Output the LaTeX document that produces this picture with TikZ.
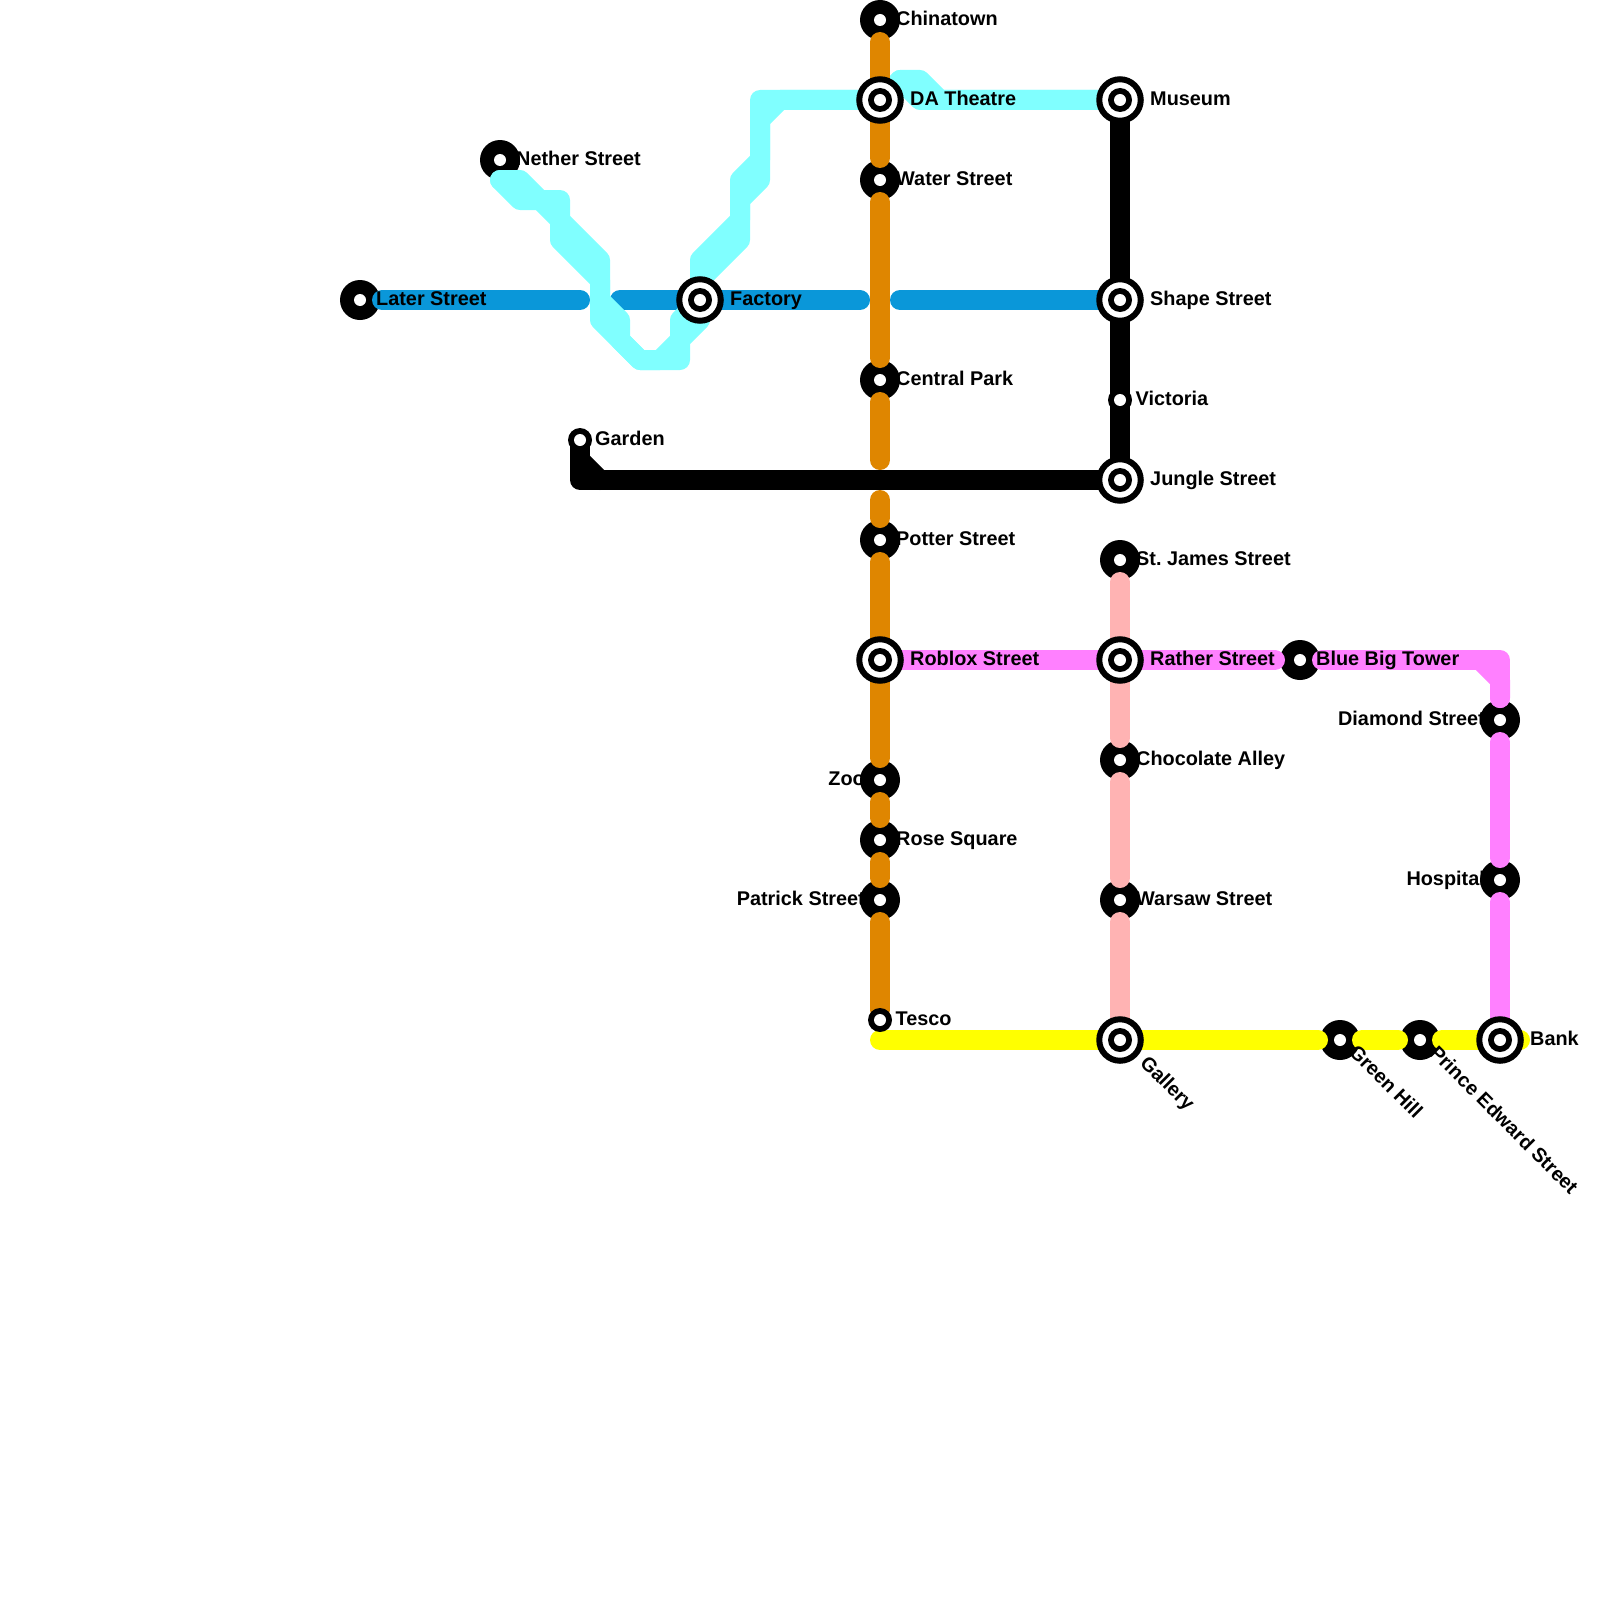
\documentclass[tikz,border=0pt]{standalone}
\usepackage{fontspec}
\setmainfont{Liberation Sans}[BoldFont={Liberation Sans Bold}]
\definecolor{lorange}{HTML}{DF8600}
\definecolor{lcyan}{HTML}{80FFFF}
\definecolor{lblue}{HTML}{0A97D9}
\definecolor{lpink}{HTML}{FFB3B3}
\definecolor{lmagenta}{HTML}{FF80FF}
\definecolor{lyellow}{HTML}{FFFF00}
\tikzset{
  rail/.style={line width=20pt,line cap=round,line join=round},
  stopgap/.style={shorten <=22pt,shorten >=22pt},
  gapstart/.style={shorten <=22pt},
  gapend/.style={shorten >=22pt},
  disc/.style={circle,fill=black,draw=none,inner sep=0pt,minimum size=40pt},
  smalldisc/.style={circle,fill=black,draw=none,inner sep=0pt,minimum size=24pt},
  hub/.style={circle,fill=white,draw=black,line width=6pt,inner sep=0pt,minimum size=41.5pt},
  hubcore/.style={circle,fill=black,draw=none,inner sep=0pt,minimum size=24pt},
  eye/.style={circle,fill=white,draw=none,inner sep=0pt,minimum size=12pt},
  lab/.style={anchor=base west,font=\fontsize{19.85pt}{24pt}\selectfont\bfseries\frenchspacing,inner sep=0pt,text=black},
  labl/.style={anchor=base east,font=\fontsize{19.85pt}{24pt}\selectfont\bfseries\frenchspacing,inner sep=0pt,text=black},
  labd/.style={lab,rotate=-45},
}
\begin{document}
\begin{tikzpicture}[x=1pt,y=-1pt]
\useasboundingbox (0,0) rectangle (1600,1600);
\fill[white] (0,0) rectangle (1600,1600);
% positions
\coordinate (china) at (880,20);
\coordinate (datheatre) at (880,100);
\coordinate (water) at (880,180);
\coordinate (central) at (880,380);
\coordinate (orangeA) at (880,460);
\coordinate (orangeB) at (880,500);
\coordinate (potter) at (880,540);
\coordinate (roblox) at (880,660);
\coordinate (zoo) at (880,780);
\coordinate (rose) at (880,840);
\coordinate (patrick) at (880,900);
\coordinate (tesco) at (880,1020);
\coordinate (yellowA) at (880,1040);
\coordinate (museum) at (1120,100);
\coordinate (shape) at (1120,300);
\coordinate (victoria) at (1120,400);
\coordinate (jungle) at (1120,480);
\coordinate (stjames) at (1120,560);
\coordinate (rather) at (1120,660);
\coordinate (chocolate) at (1120,760);
\coordinate (warsaw) at (1120,900);
\coordinate (gallery) at (1120,1040);
\coordinate (bluebig) at (1300,660);
\coordinate (diamond) at (1500,720);
\coordinate (hospital) at (1500,880);
\coordinate (bank) at (1500,1040);
\coordinate (yellowB) at (1520,1040);
\coordinate (green) at (1340,1040);
\coordinate (prince) at (1420,1040);
\coordinate (later) at (360,300);
\coordinate (factory) at (700,300);
\coordinate (nether) at (500,160);
\coordinate (netherend) at (500,180);
\coordinate (garden) at (580,440);
\coordinate (blueA) at (580,300);
\coordinate (blueB) at (620,300);
\coordinate (blueC) at (860,300);
\coordinate (blueD) at (900,300);
% discs under the lines
\foreach \n in {china,water,central,potter,zoo,rose,patrick,stjames,chocolate,warsaw,bluebig,diamond,hospital,green,prince,later,nether}
  \node[disc] (disc-\n) at (\n) {};
% blue
\draw[rail,lblue,gapstart] (later) -- (blueA);
\draw[rail,lblue] (blueB) -- (factory) -- (blueC);
\draw[rail,lblue] (blueD) -- (shape);
% cyan
\draw[rail,lcyan] (netherend) -- (520,200) -- (560,200) -- (560,240) -- (600,280) -- (600,320) -- (640,360) -- (680,360) -- (680,340) -- (700,320) -- (factory);
\draw[rail,lcyan] (netherend) -- (520,180) -- (560,220) -- (600,260) -- (600,300) -- (620,320) -- (620,340) -- (640,360) -- (660,360) -- (680,340) -- (680,320) -- (factory);
\draw[rail,lcyan] (factory) -- (700,260) -- (740,220) -- (740,180) -- (760,160) -- (760,100) -- (datheatre);
\draw[rail,lcyan] (factory) -- (700,280) -- (740,240) -- (740,200) -- (760,180) -- (760,120) -- (780,100) -- (datheatre);
\draw[rail,lcyan] (datheatre) -- (900,80) -- (920,80) -- (940,100) -- (museum);
\draw[rail,lcyan] (900,80) -- (920,100) -- (museum);
% magenta
\draw[rail,lmagenta,shorten >=25pt] (roblox) -- (bluebig);
\draw[rail,lmagenta,gapstart,gapend] (bluebig) -- (1500,660) -- (diamond);
\draw[rail,lmagenta,gapend] (1480,660) -- (diamond |- 0,680) -- (diamond);
\draw[rail,lmagenta,stopgap] (diamond) -- (hospital);
\draw[rail,lmagenta,gapstart] (hospital) -- (bank);
% pink
\draw[rail,lpink,stopgap] (stjames) -- (rather) -- (chocolate);
\draw[rail,lpink,stopgap] (chocolate) -- (warsaw);
\draw[rail,lpink,gapstart] (warsaw) -- (gallery);
% orange
\draw[rail,lorange,stopgap] (china) -- (datheatre) -- (water);
\draw[rail,lorange,stopgap] (water) -- (central);
\draw[rail,lorange,gapstart] (central) -- (orangeA);
\draw[rail,lorange,gapend] (orangeB) -- (potter);
\draw[rail,lorange,stopgap] (potter) -- (roblox) -- (zoo);
\draw[rail,lorange,stopgap] (zoo) -- (rose);
\draw[rail,lorange,stopgap] (rose) -- (patrick);
\draw[rail,lorange,gapstart,shorten >=10pt] (patrick) -- (tesco);
% black
\draw[rail,black] (museum) -- (shape) -- (victoria) -- (jungle) -- (jungle -| garden) -- (garden);
\draw[rail,black] (580,460) -- (600,480);
% yellow
\draw[rail,lyellow,gapend] (yellowA) -- (gallery) -- (green);
\draw[rail,lyellow,stopgap] (green) -- (prince);
\draw[rail,lyellow,gapstart] (prince) -- (bank) -- (yellowB);
% small stations, over the lines
\foreach \n in {tesco,garden,victoria}
  \node[smalldisc] (disc-\n) at (\n) {};
% interchanges
\foreach \n in {datheatre,factory,museum,shape,jungle,roblox,rather,gallery,bank} {
  \node[hub] (hub-\n) at (\n) {};
  \node[hubcore] (core-\n) at (\n) {};
}
% white centres
\foreach \n in {china,datheatre,water,central,potter,roblox,zoo,rose,patrick,tesco,museum,shape,victoria,jungle,stjames,rather,chocolate,warsaw,gallery,bluebig,diamond,hospital,bank,green,prince,later,factory,nether,garden}
  \node[eye] (eye-\n) at (\n) {};
% labels
\node[lab] (t1) at (896,25.5) {Chinatown};
\node[lab] (t2) at (910,106) {DA Theatre};
\node[lab] (t3) at (896,185) {Water Street};
\node[lab] (t4) at (896,385) {Central Park};
\node[lab] (t5) at (896,545) {Potter Street};
\node[lab] (t6) at (910,665) {Roblox Street};
\node[labl] (t7) at (865,785.5) {Zoo};
\node[lab] (t8) at (896,845) {Rose Square};
\node[labl] (t9) at (865,905) {Patrick Street};
\node[lab] (t10) at (895.5,1025) {Tesco};
\node[lab] (t11) at (1150,106) {Museum};
\node[lab] (t12) at (1150,305) {Shape Street};
\node[lab] (t13) at (1135.5,405) {Victoria};
\node[lab] (t14) at (1150,485) {Jungle Street};
\node[lab] (t15) at (1136,565) {St. James Street};
\node[lab] (t16) at (1150,665) {Rather Street};
\node[lab] (t17) at (1136,765) {Chocolate Alley};
\node[lab] (t18) at (1136,905) {Warsaw Street};
\node[lab] (t19) at (1316,665) {Blue Big Tower};
\node[labl] (t20) at (1485,725) {Diamond Street};
\node[labl] (t21) at (1485,885) {Hospital};
\node[lab] (t22) at (1530,1045) {Bank};
\node[lab] (t23) at (376,305) {Later Street};
\node[lab] (t24) at (730,305) {Factory};
\node[lab] (t25) at (516,165) {Nether Street};
\node[lab] (t26) at (595,445) {Garden};
\node[labd] (t27) at (1139,1064) {Gallery};
\node[labd] (t28) at (1348,1053) {Green Hill};
\node[labd] (t29) at (1428.5,1054) {Prince Edward Street};
\end{tikzpicture}
\end{document}
